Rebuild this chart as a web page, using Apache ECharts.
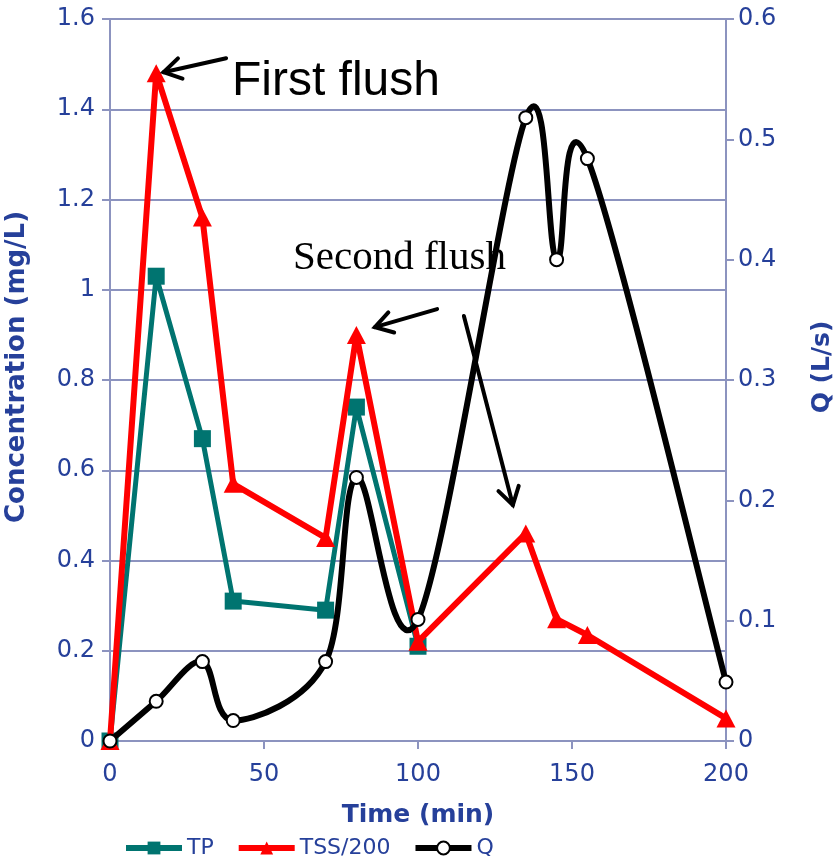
<!DOCTYPE html>
<html><head><meta charset="utf-8">
<script src="https://cdn.jsdelivr.net/npm/echarts@6/dist/echarts.min.js"></script>
<style>html,body{margin:0;padding:0;background:#fff}#c{width:838px;height:856px}</style>
</head><body><div id="c"></div>
<script>
// ---- data ----
const timeMin   = [0, 15, 30, 40, 70, 80, 100, 135, 145, 155, 200];
const tpTime    = [0, 15, 30, 40, 70, 80, 100];
const tpValues  = [0, 1.03, 0.67, 0.31, 0.29, 0.74, 0.21];
const tssValues = [0, 1.48, 1.16, 0.57, 0.45, 0.90, 0.22, 0.46, 0.27, 0.235, 0.05];
const qValues   = [0, 0.033, 0.066, 0.017, 0.066, 0.219, 0.101, 0.518, 0.40, 0.484, 0.049];
const xTicks    = [0, 50, 100, 150, 200];
const concTicks = [0, 0.2, 0.4, 0.6, 0.8, 1, 1.2, 1.4, 1.6];
const qTicks    = [0, 0.1, 0.2, 0.3, 0.4, 0.5, 0.6];
const seriesNames = ['TP', 'TSS/200', 'Q'];
// annotations (data coords: [time, concentration])
const annoTexts = [
  { text: 'First flush', at: [39.6, 1.46], font: '48px "Liberation Sans", Arial, sans-serif' },
  { text: 'Second flush', at: [59.4, 1.07], font: '41px "Liberation Serif", "Times New Roman", serif' }
];
const annoArrows = [
  { from: [37.7, 1.513], to: [17.4, 1.482] },
  { from: [106.2, 0.957], to: [86.0, 0.917] },
  { from: [114.9, 0.942], to: [130.8, 0.523] }
];

const axisColor = '#8C93BF';
const labelColor = '#26409A';
const pair = (xs, ys) => xs.map((x, i) => [x, ys[i]]);

// smooth (spreadsheet-style Bezier) segment between point i and i+1 of the Q series
function qSegment(params, api) {
  const n = timeMin.length;
  const i = params.dataIndex;
  if (i >= n - 1) return null;
  const P = k => { const j = Math.max(0, Math.min(n - 1, k)); return api.coord([timeMin[j], qValues[j]]); };
  const p0 = P(i - 1), p1 = P(i), p2 = P(i + 1), p3 = P(i + 2);
  const c1 = [p1[0] + (p2[0] - p0[0]) / 6, p1[1] + (p2[1] - p0[1]) / 6];
  const c2 = [p2[0] - (p3[0] - p1[0]) / 6, p2[1] - (p3[1] - p1[1]) / 6];
  return {
    type: 'bezierCurve',
    shape: { x1: p1[0], y1: p1[1], x2: p2[0], y2: p2[1], cpx1: c1[0], cpy1: c1[1], cpx2: c2[0], cpy2: c2[1] },
    style: { stroke: '#000', lineWidth: 6, fill: null, lineCap: 'round' }
  };
}

const chart = echarts.init(document.getElementById('c'), null, { renderer: 'canvas' });
chart.setOption({
  animation: false,
  backgroundColor: '#fff',
  grid: { left: 110, right: 112, top: 19, bottom: 115, containLabel: false, outerBoundsMode: 'none' },
  legend: {
    data: seriesNames,
    left: 118, top: 832,
    itemWidth: 56, itemHeight: 16, itemGap: 22,
    lineStyle: { opacity: 1, width: 6 },
    textStyle: { color: labelColor, fontSize: 22, fontFamily: 'DejaVu Sans' }
  },
  xAxis: {
    type: 'value', min: xTicks[0], max: xTicks[xTicks.length - 1], interval: xTicks[1] - xTicks[0],
    name: 'Time (min)', nameLocation: 'middle', nameGap: 62,
    nameTextStyle: { color: labelColor, fontSize: 25, fontWeight: 'bold', fontFamily: 'DejaVu Sans' },
    axisLine: { lineStyle: { color: axisColor, width: 2 } },
    axisTick: { show: true, length: 8, lineStyle: { color: axisColor, width: 2 } },
    axisLabel: { color: labelColor, fontSize: 24, fontFamily: 'DejaVu Sans', margin: 22 },
    splitLine: { show: false }
  },
  yAxis: [{
    type: 'value', min: concTicks[0], max: concTicks[concTicks.length - 1], interval: concTicks[1] - concTicks[0],
    position: 'left',
    name: 'Concentration (mg/L)', nameLocation: 'middle', nameGap: 80, nameRotate: 90,
    nameTextStyle: { color: labelColor, fontSize: 26, fontWeight: 'bold', fontFamily: 'DejaVu Sans', padding: [0, 0, 0, 26] },
    axisLine: { show: true, lineStyle: { color: axisColor, width: 2 } },
    axisTick: { show: true, length: 8, lineStyle: { color: axisColor, width: 2 } },
    axisLabel: { color: labelColor, fontSize: 24, fontFamily: 'DejaVu Sans', margin: 15 },
    splitLine: { show: true, lineStyle: { color: axisColor, width: 2 } }
  }, {
    type: 'value', min: qTicks[0], max: qTicks[qTicks.length - 1], interval: qTicks[1] - qTicks[0],
    position: 'right',
    name: 'Q (L/s)', nameLocation: 'middle', nameGap: 84, nameRotate: 90,
    nameTextStyle: { color: labelColor, fontSize: 25, fontWeight: 'bold', fontFamily: 'DejaVu Sans', padding: [0, 0, 0, 26] },
    axisLine: { show: true, lineStyle: { color: axisColor, width: 2 } },
    axisTick: { show: true, length: 8, lineStyle: { color: axisColor, width: 2 } },
    axisLabel: { color: labelColor, fontSize: 24, fontFamily: 'DejaVu Sans', margin: 12 },
    splitLine: { show: false }
  }],
  series: [{
    name: seriesNames[0], type: 'line', yAxisIndex: 0,
    data: pair(tpTime, tpValues),
    symbol: 'rect', symbolSize: 17,
    itemStyle: { color: '#007470' },
    lineStyle: { color: '#007470', width: 5 },
    z: 2
  }, {
    name: seriesNames[1], type: 'line', yAxisIndex: 0,
    data: pair(timeMin, tssValues),
    symbol: 'triangle', symbolSize: [19, 18],
    itemStyle: { color: '#FF0000' },
    lineStyle: { color: '#FF0000', width: 6 },
    z: 3
  }, {
    name: 'Q curve', type: 'custom', xAxisIndex: 0, yAxisIndex: 1,
    data: pair(timeMin, qValues),
    encode: { x: 0, y: 1 },
    renderItem: qSegment,
    silent: true,
    z: 4
  }, {
    name: seriesNames[2], type: 'line', yAxisIndex: 1,
    data: pair(timeMin, qValues),
    symbol: 'emptyCircle', symbolSize: 13,
    itemStyle: { color: '#000', borderColor: '#000', borderWidth: 2.5 },
    lineStyle: { color: '#000', width: 5, opacity: 0 },
    z: 5
  }]
});

function drawAnnotations() {
  const toPx = p => chart.convertToPixel({ xAxisIndex: 0, yAxisIndex: 0 }, p);
  const elems = [];
  annoTexts.forEach(t => {
    const p = toPx(t.at);
    elems.push({ type: 'text', x: p[0], y: p[1], z: 100,
      style: { text: t.text, font: t.font, fill: '#000', align: 'left', verticalAlign: 'middle' } });
  });
  annoArrows.forEach(a => {
    const s = toPx(a.from), e = toPx(a.to);
    const ang = Math.atan2(s[1] - e[1], s[0] - e[0]);
    const L = 20, spread = 0.55;
    const h1 = [e[0] + L * Math.cos(ang + spread), e[1] + L * Math.sin(ang + spread)];
    const h2 = [e[0] + L * Math.cos(ang - spread), e[1] + L * Math.sin(ang - spread)];
    elems.push({ type: 'polyline', z: 100, shape: { points: [s, e] },
      style: { stroke: '#000', lineWidth: 4, lineCap: 'round', fill: null } });
    elems.push({ type: 'polyline', z: 100, shape: { points: [h1, e, h2] },
      style: { stroke: '#000', lineWidth: 4, lineCap: 'round', lineJoin: 'miter', fill: null } });
  });
  chart.setOption({ graphic: elems });
}
drawAnnotations();
</script>
</body></html>
